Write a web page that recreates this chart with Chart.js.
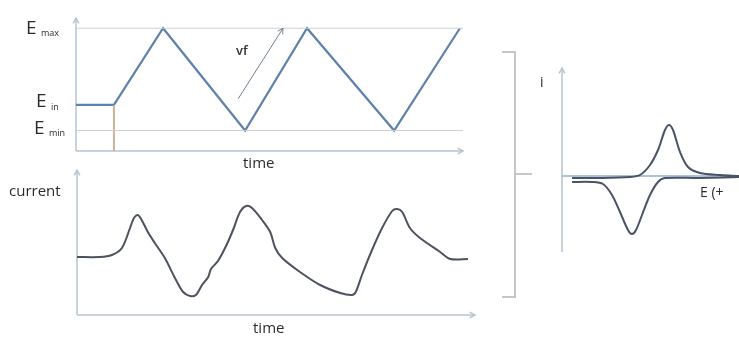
<!DOCTYPE html>
<html><head><meta charset="utf-8">
<script src="https://cdn.jsdelivr.net/npm/chart.js@4"></script>
<style>
html,body{margin:0;padding:0;background:#fff;}
#wrap{position:relative;width:739px;height:337px;overflow:hidden;}
canvas{position:absolute;left:0;top:0;}
</style></head><body>
<div id="wrap">
<canvas id="cA" width="739" height="337"></canvas>
<canvas id="cB" width="739" height="337"></canvas>
<canvas id="cC" width="739" height="337"></canvas>
</div>
<script>
// ---- Top chart: applied potential vs time ----
const triTime = [0, 0.98, 2.25, 4.37, 5.97, 8.22, 9.92];
const triE    = [0.25, 0.25, 1, 0, 1, 0, 1];
const E_MIN = 0, E_IN = 0.25, E_MAX = 1;
const startTime = 0.98;
const vfTime = [4.19, 5.35];
const vfE    = [0.31, 1.0];
const eLabels = [{v:E_MAX, sub:'max'}, {v:E_IN, sub:'in'}, {v:E_MIN, sub:'min'}];

// ---- Bottom chart: current vs time ----
const curTime = [0,0.59,0.9,1.16,1.37,1.47,1.57,1.67,1.83,2.01,2.27,2.53,2.74,2.92,3.07,3.23,3.39,3.46,3.64,3.85,4.03,4.21,4.37,4.52,4.78,4.99,5.12,5.3,5.76,6.28,6.8,7.1,7.2,7.36,7.62,7.88,8.14,8.27,8.4,8.6,8.86,9.38,9.64,10.1];
const curI    = [0,0,0.04,0.18,0.58,0.78,0.84,0.74,0.5,0.28,-0.02,-0.42,-0.7,-0.78,-0.76,-0.56,-0.4,-0.24,-0.08,0.22,0.54,0.9,1.02,0.98,0.74,0.5,0.18,-0.02,-0.3,-0.56,-0.72,-0.76,-0.7,-0.36,0.14,0.58,0.92,0.96,0.9,0.58,0.38,0.1,-0.04,-0.04];

// ---- Right chart: cyclic voltammogram i vs E ----
const cvE = [0.10,0.38,0.68,0.78,0.88,0.96,1.03,1.07,1.11,1.18,1.26,1.38,1.58,1.77, 1.77,1.38,1.03,0.96,0.88,0.80,0.74,0.70,0.66,0.58,0.50,0.41,0.30,0.10];
const cvI = [-0.04,-0.04,-0.02,0.02,0.22,0.52,0.92,1.02,0.92,0.48,0.18,0.06,0.02,0, -0.02,-0.04,-0.04,-0.12,-0.38,-0.78,-1.08,-1.16,-1.08,-0.72,-0.38,-0.16,-0.12,-0.12];

const FONT = '"Open Sans", Lato, sans-serif';
const AXIS = '#b9c3cc';
const pts = (xs, ys) => xs.map((x,i)=>({x, y:ys[i]}));

function arrowHead(ctx, x, y, dir, size){
  ctx.beginPath();
  ctx.moveTo(x - size*Math.cos(dir-0.5), y - size*Math.sin(dir-0.5));
  ctx.lineTo(x, y);
  ctx.lineTo(x - size*Math.cos(dir+0.5), y - size*Math.sin(dir+0.5));
  ctx.stroke();
}

const axesPlugin = {
  id:'axesPlugin',
  beforeDatasetsDraw(chart, args, opts){
    const {ctx, chartArea:a, scales:{x, y}} = chart;
    ctx.save();
    ctx.strokeStyle = opts.color || AXIS; ctx.lineWidth = 1.5;
    const yAxisX = a.left;
    const xAxisY = opts.xAt !== undefined ? y.getPixelForValue(opts.xAt) : a.bottom;
    ctx.beginPath(); ctx.moveTo(yAxisX, a.bottom); ctx.lineTo(yAxisX, a.top); ctx.stroke();
    arrowHead(ctx, yAxisX, a.top, -Math.PI/2, 6);
    ctx.strokeStyle = opts.xColor || opts.color || AXIS;
    ctx.beginPath(); ctx.moveTo(yAxisX, xAxisY); ctx.lineTo(a.right, xAxisY); ctx.stroke();
    if (opts.xArrow !== false) arrowHead(ctx, a.right, xAxisY, 0, 6);
    ctx.restore();
  },
  afterDraw(chart, args, opts){
    if (opts.draw) opts.draw(chart);
  }
};
Chart.register(axesPlugin);

function baseOpts(pad, xr, yr, plug){
  return {
    responsive:false, animation:false, devicePixelRatio:1,
    layout:{padding:pad},
    plugins:{legend:{display:false}, tooltip:{enabled:false}, axesPlugin:plug},
    elements:{point:{radius:0}},
    scales:{
      x:{type:'linear', display:false, min:xr[0], max:xr[1]},
      y:{type:'linear', display:false, min:yr[0], max:yr[1]}
    }
  };
}

// Chart A
new Chart(document.getElementById('cA'), {
  type:'scatter',
  data:{datasets:[
    {data:pts([0,10],[E_MAX,E_MAX]), showLine:true, borderColor:'#cfcfcf', borderWidth:1},
    {data:pts([0,10],[E_MIN,E_MIN]), showLine:true, borderColor:'#cfcfcf', borderWidth:1},
    {data:pts([startTime,startTime],[E_IN,-0.2]), showLine:true, borderColor:'#c9a88c', borderWidth:1},
    {data:pts(vfTime, vfE), showLine:true, borderColor:'#6d7f92', borderWidth:1},
    {data:pts(triTime, triE), showLine:true, borderColor:'#5f82aa', borderWidth:2.2, tension:0}
  ]},
  options: baseOpts({left:76,right:276,top:18,bottom:186},[0,10],[-0.2,1.1],{
    draw(chart){
      const {ctx, scales:{x,y}} = chart;
      ctx.save();
      ctx.fillStyle = '#2b2b2b';
      const offs = {max:[26,0], in:[36,-3], min:[34,-2]};
      eLabels.forEach(l=>{
        const py = y.getPixelForValue(l.v) + offs[l.sub][1];
        ctx.font = '19px ' + FONT; ctx.textBaseline = 'middle'; ctx.textAlign='left';
        ctx.fillText('E', offs[l.sub][0], py);
        ctx.font = '9px ' + FONT;
        ctx.fillText(l.sub, offs[l.sub][0] + 15, py + 5);
      });
      const x0 = x.getPixelForValue(vfTime[0]), y0 = y.getPixelForValue(vfE[0]);
      const x1 = x.getPixelForValue(vfTime[1]), y1 = y.getPixelForValue(vfE[1]);
      ctx.strokeStyle = '#6d7f92'; ctx.lineWidth = 1;
      arrowHead(ctx, x1, y1, Math.atan2(y1-y0, x1-x0), 6);
      ctx.font = '600 13px ' + FONT; ctx.textAlign='left'; ctx.textBaseline='middle';
      ctx.fillStyle = '#333';
      ctx.fillText('vf', 236, 51);
      ctx.font = '15px ' + FONT; ctx.fillStyle='#2b2b2b';
      ctx.fillText('time', 243, 164);
      ctx.restore();
    }
  })
});

// Chart B
new Chart(document.getElementById('cB'), {
  type:'scatter',
  data:{datasets:[
    {data:pts(curTime, curI), showLine:true, borderColor:'#4d5260', borderWidth:2, tension:0.3}
  ]},
  options: baseOpts({left:77,right:264,top:170,bottom:22},[0,10.28],[-1.16,1.74],{
    draw(chart){
      const {ctx} = chart;
      ctx.save();
      ctx.fillStyle = '#2b2b2b'; ctx.font = '15px ' + FONT;
      ctx.textBaseline='middle'; ctx.textAlign='left';
      ctx.fillText('current', 9, 192);
      ctx.fillText('time', 253, 329);
      ctx.restore();
    }
  })
});

// Chart C
new Chart(document.getElementById('cC'), {
  type:'scatter',
  data:{datasets:[
    {data:pts(cvE, cvI), showLine:true, borderColor:'#4a5466', borderWidth:2, tension:0.3}
  ]},
  options: baseOpts({left:562,right:0,top:68,bottom:85},[0,1.77],[-1.52,2.16],{
    xAt:0, xArrow:false, xColor:'#8fb0cf',
    draw(chart){
      const {ctx} = chart;
      ctx.save();
      ctx.strokeStyle = '#c6c6c6'; ctx.lineWidth = 2;
      ctx.beginPath();
      ctx.moveTo(502,52); ctx.lineTo(515,52); ctx.lineTo(515,297); ctx.lineTo(502,297);
      ctx.moveTo(515,174); ctx.lineTo(532,174);
      ctx.stroke();
      ctx.fillStyle = '#2b2b2b'; ctx.font = '14px ' + FONT;
      ctx.textBaseline='middle'; ctx.textAlign='left';
      ctx.fillText('i', 540, 83);
      ctx.fillText('E (+', 700, 193);
      ctx.restore();
    }
  })
});
</script>
</body></html>
